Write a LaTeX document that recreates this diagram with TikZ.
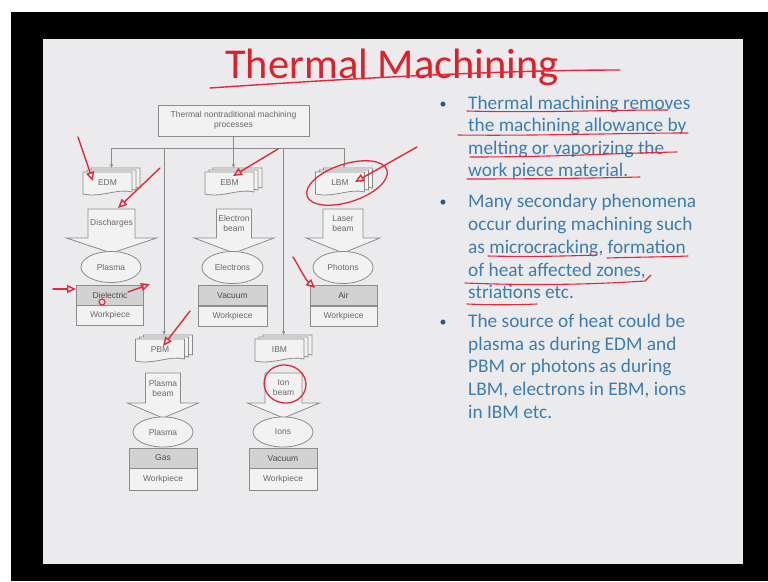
\documentclass[tikz,border=0pt]{standalone}
\usepackage{fontspec}
\setmainfont{Carlito}
\newfontfamily\diagfont{Liberation Sans}
\usetikzlibrary{arrows.meta,shapes.geometric}

\definecolor{slidebg}{RGB}{235,235,237}
\definecolor{bodyblue}{RGB}{62,124,176}
\definecolor{titlered}{RGB}{222,32,42}
\definecolor{pen}{RGB}{228,40,60}
\definecolor{diagline}{RGB}{140,140,140}
\definecolor{diagtext}{RGB}{105,105,105}
\definecolor{shadeA}{RGB}{210,210,210}
\definecolor{shadeB}{RGB}{242,242,242}

\tikzset{
  diag/.style={draw=diagline, line width=0.8pt},
  lbl/.style={font=\diagfont\fontsize{8.5}{10}\selectfont, text=diagtext, align=center, inner sep=0pt},
  sheet/.style={diag, fill=shadeB},
  ell/.style={ellipse, diag, fill=shadeB, lbl},
  midbox/.style={rectangle, diag, fill=shadeA, minimum width=67pt, minimum height=20pt, lbl, text=black!70},
  workbox/.style={rectangle, diag, fill=shadeB, minimum width=67pt, minimum height=20pt, lbl},
  conn/.style={diag, -{Stealth[length=4pt,width=3.5pt]}},
  penline/.style={draw=pen, line width=1.4pt, line cap=round, line join=round},
  penarrow/.style={penline, -{Triangle[open, length=9pt, width=8pt]}},
  btext/.style={font=\fontsize{19.3}{22}\selectfont, text=bodyblue, anchor=base west, inner sep=0pt},
  bdot/.style={font=\fontsize{14}{16}\selectfont, text=bodyblue!70!black, anchor=base, inner sep=0pt},
}

% stack of documents: name, centre x, top y, label
\newcommand\docstack[4]{%
  \begin{scope}[shift={(#2-28.5,#3)}]
    \foreach \d in {8,4,0}{%
      \path[sheet] (\d,{4-\d/2}) -- ({\d+49},{4-\d/2}) -- ({\d+49},{24-\d/2})
        .. controls ({\d+35},{20-\d/2}) and ({\d+18},{30-\d/2}) .. (\d,{26-\d/2}) -- cycle;
    }
    \node[lbl] (#1-t) at (24.5,15) {#4};
  \end{scope}
  \node[minimum width=57pt, minimum height=28pt, inner sep=0pt] (#1) at (#2,{#3+14}) {};
}

% broad downward block arrow: name, cx, top, shaft half, wing half, shaft bottom, tip, text
\newcommand\blockarrow[8]{%
  \path[sheet] ({#2-#4},#3) -- ({#2+#4},#3) -- ({#2+#4},#6) -- ({#2+#5},#6)
    -- (#2,#7) -- ({#2-#5},#6) -- ({#2-#4},#6) -- cycle;
  \node[lbl] (#1) at (#2,{(#3+#6)/2}) {#8};
}

\begin{document}
\begin{tikzpicture}[x=1pt,y=-1pt]
% screen frame and slide
\fill[white] (0,0) rectangle (768,581);
\fill[black] (11,12) rectangle (768,581);
\fill[slidebg] (43,39) rectangle (743,564);
\useasboundingbox (0,0) rectangle (768,581);

% title
\node[font=\fontsize{42.5}{46}\selectfont, text=titlered, anchor=base west, inner sep=0pt] (title) at (225,78) {Thermal Machining};

% classification chart
\node[diag, fill=shadeB, minimum width=151pt, minimum height=31pt, lbl] (top) at (233.5,120.5) {Thermal nontraditional machining\\processes};

\docstack{edm}{111.5}{168}{EDM}
\docstack{ebm}{233.5}{168}{EBM}
\docstack{lbm}{344}{168}{LBM}
\docstack{pbm}{164}{335}{PBM}
\docstack{ibm}{283.5}{335}{IBM}

\coordinate (hl) at (111.5,148);
\coordinate (hr) at (344,148);
\coordinate (hp) at (164,148);
\coordinate (hi) at (283.5,148);
\draw[diag] (hl) -- (hr);
\draw[conn] (top.south) -- (ebm.north);
\draw[conn] (hl) -- (edm.north);
\draw[conn] (hr) -- (lbm.north);
\draw[conn] (hp) -- (pbm.north);
\draw[conn] (hi) -- (ibm.north);

\blockarrow{dis}{111.5}{209}{23.5}{45}{238}{253}{Discharges}
\blockarrow{eb}{234}{209}{17.5}{40}{238}{253}{Electron\\beam}
\blockarrow{lb}{343}{209}{20}{37}{238}{253}{Laser\\beam}
\blockarrow{pb}{163}{373}{17.5}{35.5}{403}{418}{Plasma\\beam}
\blockarrow{ib}{283.5}{373}{18.5}{36}{403}{418}{Ion\\beam}

\node[ell, minimum width=60pt, minimum height=31pt] (e1) at (111,267) {Plasma};
\node[ell, minimum width=61pt, minimum height=32pt] (e2) at (232.5,267.5) {Electrons};
\node[ell, minimum width=60pt, minimum height=32pt] (e3) at (343,267.5) {Photons};
\node[ell, minimum width=60pt, minimum height=30pt] (e4) at (163,432) {Plasma};
\node[ell, minimum width=60pt, minimum height=30pt] (e5) at (283,432) {Ions};

\node[midbox] (m1) at (110,295) {Dielectric};
\node[workbox] (w1) at (110,315) {Workpiece};
\node[midbox, minimum width=69pt] (m2) at (232.5,295.5) {Vacuum};
\node[workbox, minimum width=69pt] (w2) at (232.5,316) {Workpiece};
\node[midbox] (m3) at (343.5,295.5) {Air};
\node[workbox] (w3) at (343.5,316) {Workpiece};
\node[midbox, minimum width=68pt] (m4) at (163,458) {Gas};
\node[workbox, minimum width=68pt, minimum height=22pt] (w4) at (163,479) {Workpiece};
\node[midbox, minimum width=68pt] (m5) at (283,458.5) {Vacuum};
\node[workbox, minimum width=68pt, minimum height=22pt] (w5) at (283,479.5) {Workpiece};

% bullet text
\node[bdot] (d1) at (443,108) {•};
\node[btext] (b1a) at (468,109) {Thermal machining removes};
\node[btext] (b1b) at (468,131.5) {the machining allowance by};
\node[btext] (b1c) at (468,154) {melting or vaporizing the};
\node[btext] (b1d) at (468,176.5) {work piece material.};
\node[bdot] (d2) at (443,206.5) {•};
\node[btext] (b2a) at (468,207.5) {Many secondary phenomena};
\node[btext] (b2b) at (468,230) {occur during machining such};
\node[btext] (b2c) at (468,253) {as microcracking, formation};
\node[btext] (b2d) at (468,276) {of heat affected zones,};
\node[btext] (b2e) at (468,298.5) {striations etc.};
\node[bdot] (d3) at (443,326) {•};
\node[btext] (b3a) at (468,327) {The source of heat could be};
\node[btext] (b3b) at (468,350) {plasma as during EDM and};
\node[btext] (b3c) at (468,372.5) {PBM or photons as during};
\node[btext] (b3d) at (468,395.5) {LBM, electrons in EBM, ions};
\node[btext] (b3e) at (468,418) {in IBM etc.};

% pen marks
\draw[penline] (210,88) .. controls (340,79) and (500,70) .. (620,70);

\coordinate (p1s) at (78,137);   \coordinate (p1e) at (93,181);
\coordinate (p2s) at (160,168);  \coordinate (p2e) at (118,208);
\coordinate (p3s) at (278,149);  \coordinate (p3e) at (233,176);
\coordinate (p4s) at (417,147);  \coordinate (p4e) at (355,182);
\coordinate (p5s) at (293,257);  \coordinate (p5e) at (315,288);
\coordinate (p6s) at (53,289);   \coordinate (p6e) at (76,289);
\coordinate (p7s) at (128,292);  \coordinate (p7e) at (150,284);
\coordinate (p8s) at (190,311);  \coordinate (p8e) at (163,346);
\draw[penarrow] (p1s) -- (p1e);
\draw[penarrow] (p2s) -- (p2e);
\draw[penarrow] (p3s) -- (p3e);
\draw[penarrow] (p4s) -- (p4e);
\draw[penarrow] (p5s) .. controls (300,268) and (305,279) .. (p5e);
\draw[penarrow] (p6s) -- (p6e);
\draw[penarrow] (p7s) -- (p7e);
\draw[penarrow] (p8s) -- (p8e);
\node[draw=pen, line width=1.3pt, ellipse, rotate=18, minimum width=84pt, minimum height=38pt] (loop1) at (347,183) {};
\node[draw=pen, line width=1.3pt, ellipse, rotate=-10, minimum width=42pt, minimum height=38pt] (loop2) at (285,384) {};
\node[draw=pen, line width=1.1pt, circle, minimum size=6pt, inner sep=0pt] (dot1) at (102,302) {};

\begin{scope}[penline, line width=1.1pt]
  \draw (467,111) .. controls (540,113) and (600,110) .. (668,110);
  \draw (458,135) .. controls (540,136) and (620,133) .. (688,133);
  \draw (470,157) .. controls (560,157) and (620,153) .. (677,152);
  \draw (467,179) .. controls (540,179) and (600,178) .. (640,177);
  \draw (488,256) .. controls (530,257) and (570,256) .. (597,255);
  \draw (607,258) .. controls (640,257) and (665,257) .. (688,256);
  \draw (465,283) .. controls (540,286) and (600,284) .. (645,281) -- (651,275);
  \draw (467,304) .. controls (490,305) and (515,305) .. (537,304);
\end{scope}
\end{tikzpicture}
\end{document}
